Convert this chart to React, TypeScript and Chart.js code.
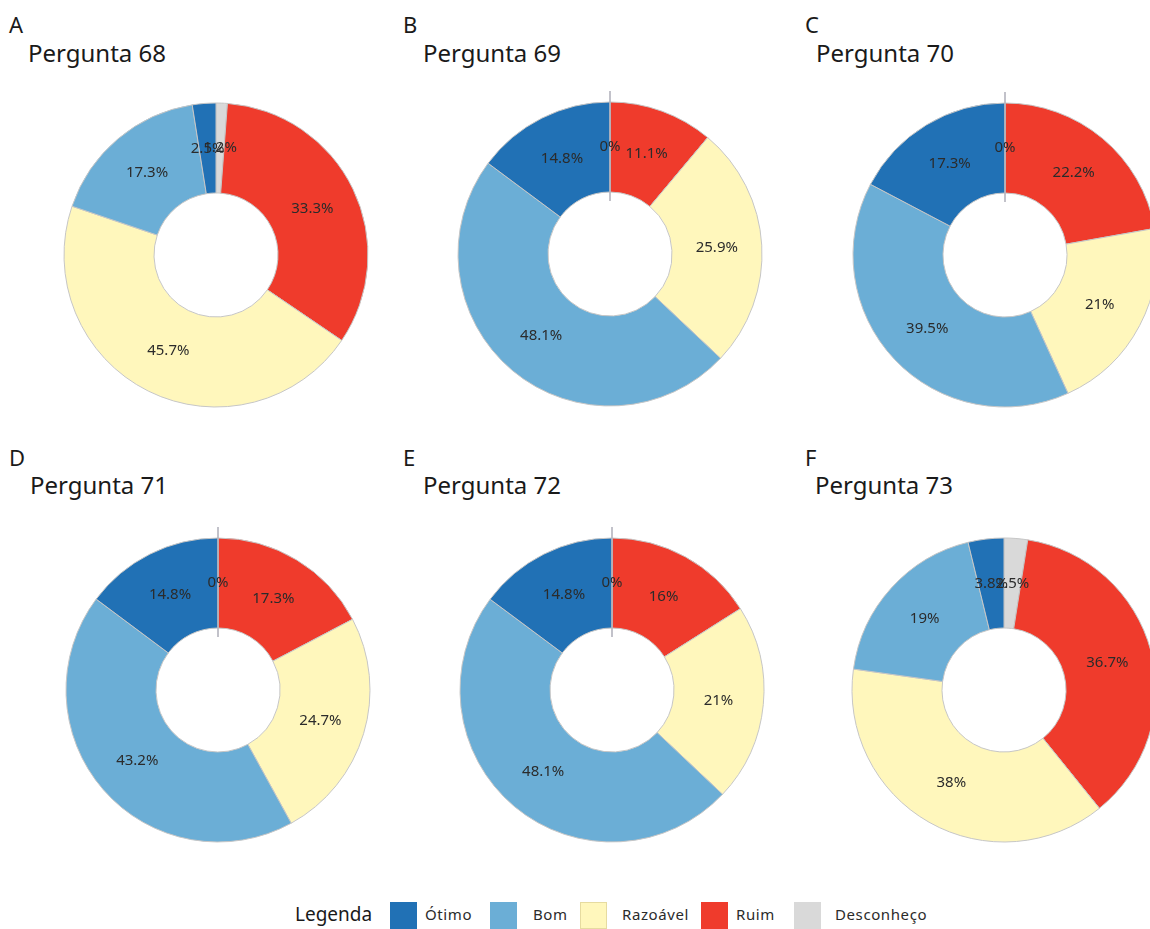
import React, { useEffect, useRef } from 'react';
import { Chart, registerables } from 'chart.js';

Chart.register(...registerables);

// ---------- DATA ----------
const categories = ['Ótimo', 'Bom', 'Razoável', 'Ruim', 'Desconheço'];
const categoryColors = ['#2171b5', '#6baed6', '#fff7bc', '#ef3b2c', '#d9d9d9'];
const panelLetters = ['A', 'B', 'C', 'D', 'E', 'F'];
const questionTitles = ['Pergunta 68', 'Pergunta 69', 'Pergunta 70', 'Pergunta 71', 'Pergunta 72', 'Pergunta 73'];
// values in category order: Ótimo, Bom, Razoável, Ruim, Desconheço
const p68 = [2.5, 17.3, 45.7, 33.3, 1.2];
const p69 = [14.8, 48.1, 25.9, 11.1, 0];
const p70 = [17.3, 39.5, 21, 22.2, 0];
const p71 = [14.8, 43.2, 24.7, 17.3, 0];
const p72 = [14.8, 48.1, 21, 16, 0];
const p73 = [3.8, 19, 38, 36.7, 2.5];
const questionValues = [p68, p69, p70, p71, p72, p73];
const legendTitle = 'Legenda';

// ---------- LAYOUT ----------
const FONT = '"Noto Sans", "DejaVu Sans", sans-serif';
const CANVAS = 360;
const OUTER_R = 152;
const INNER_R = 62;
const centers = [
  [216, 255], [610, 254], [1005, 255],
  [218, 690], [612, 690], [1004, 690],
];
const letterPos = [
  [9, 13], [403, 13], [805, 13],
  [9, 446], [403, 446], [805, 446],
];
const titlePos = [
  [28, 41], [423, 41], [816, 41],
  [30, 473], [423, 473], [815, 473],
];
const legendBoxX = [390, 490, 580, 701, 794];
const legendTextX = [425, 533, 622, 736, 835];

const sliceLabelPlugin = {
  id: 'sliceLabels',
  afterDatasetsDraw(chart: any) {
    const ctx = chart.ctx;
    const meta = chart.getDatasetMeta(0);
    const data = chart.data.datasets[0].data as number[];
    ctx.save();
    meta.data.forEach((arc: any, i: number) => {
      if (data[i] === 0) {
        const { x, y, startAngle, innerRadius, outerRadius } = arc.getProps(
          ['x', 'y', 'startAngle', 'innerRadius', 'outerRadius'], true);
        ctx.strokeStyle = '#b3b3bd';
        ctx.lineWidth = 1.6;
        ctx.beginPath();
        ctx.moveTo(x + Math.cos(startAngle) * (innerRadius - 9), y + Math.sin(startAngle) * (innerRadius - 9));
        ctx.lineTo(x + Math.cos(startAngle) * (outerRadius + 11), y + Math.sin(startAngle) * (outerRadius + 11));
        ctx.stroke();
      }
    });
    ctx.font = `15px ${FONT}`;
    ctx.fillStyle = '#2b2b2b';
    ctx.textAlign = 'center';
    ctx.textBaseline = 'middle';
    meta.data.forEach((arc: any, i: number) => {
      const p = arc.getCenterPoint(true);
      ctx.fillText(`${data[i]}%`, p.x, p.y);
    });
    ctx.restore();
  },
};

function Donut({ values }: { values: number[] }) {
  const ref = useRef<HTMLCanvasElement>(null);
  useEffect(() => {
    if (!ref.current) return;
    // clockwise from the top: Desconheço, Ruim, Razoável, Bom, Ótimo
    const order = [4, 3, 2, 1, 0];
    const chart = new Chart(ref.current, {
      type: 'doughnut',
      data: {
        labels: order.map((i) => categories[i]),
        datasets: [{
          data: order.map((i) => values[i]),
          backgroundColor: order.map((i) => categoryColors[i]),
          borderColor: '#c6c6c6',
          borderWidth: 1,
        }],
      },
      options: {
        responsive: false,
        animation: false,
        events: [],
        radius: OUTER_R,
        cutout: `${(INNER_R / OUTER_R) * 100}%`,
        layout: { padding: 0 },
        plugins: { legend: { display: false }, tooltip: { enabled: false } },
      } as any,
      plugins: [sliceLabelPlugin],
    });
    return () => chart.destroy();
  }, [values]);
  return <canvas ref={ref} width={CANVAS} height={CANVAS} style={{ display: 'block', width: CANVAS, height: CANVAS }} />;
}

export default function App() {
  return (
    <div style={{ position: 'absolute', left: 0, top: 0, width: 1150, height: 929, overflow: 'hidden', background: '#fff', fontFamily: FONT, color: '#1a1a1a' }}>
      {questionValues.map((vals, k) => (
        <React.Fragment key={k}>
          <div style={{ position: 'absolute', left: letterPos[k][0], top: letterPos[k][1], fontSize: 22, lineHeight: '22px' }}>{panelLetters[k]}</div>
          <div style={{ position: 'absolute', left: titlePos[k][0], top: titlePos[k][1], fontSize: 24, lineHeight: '24px', whiteSpace: 'nowrap' }}>{questionTitles[k]}</div>
          <div style={{ position: 'absolute', left: centers[k][0] - CANVAS / 2, top: centers[k][1] - CANVAS / 2 }}>
            <Donut values={vals} />
          </div>
        </React.Fragment>
      ))}
      <div style={{ position: 'absolute', left: 295, top: 905, fontSize: 19, lineHeight: '19px', whiteSpace: 'nowrap' }}>{legendTitle}</div>
      {categories.map((c, i) => (
        <React.Fragment key={c}>
          <div style={{ position: 'absolute', left: legendBoxX[i], top: 902, width: 27, height: 27, boxSizing: 'border-box', background: categoryColors[i], border: `1px solid ${i === 2 ? '#e6dba0' : categoryColors[i]}` }} />
          <div style={{ position: 'absolute', left: legendTextX[i], top: 907, fontSize: 15, lineHeight: '15px', whiteSpace: 'nowrap', color: '#2b2b2b', letterSpacing: 0.6 }}>{c}</div>
        </React.Fragment>
      ))}
    </div>
  );
}
